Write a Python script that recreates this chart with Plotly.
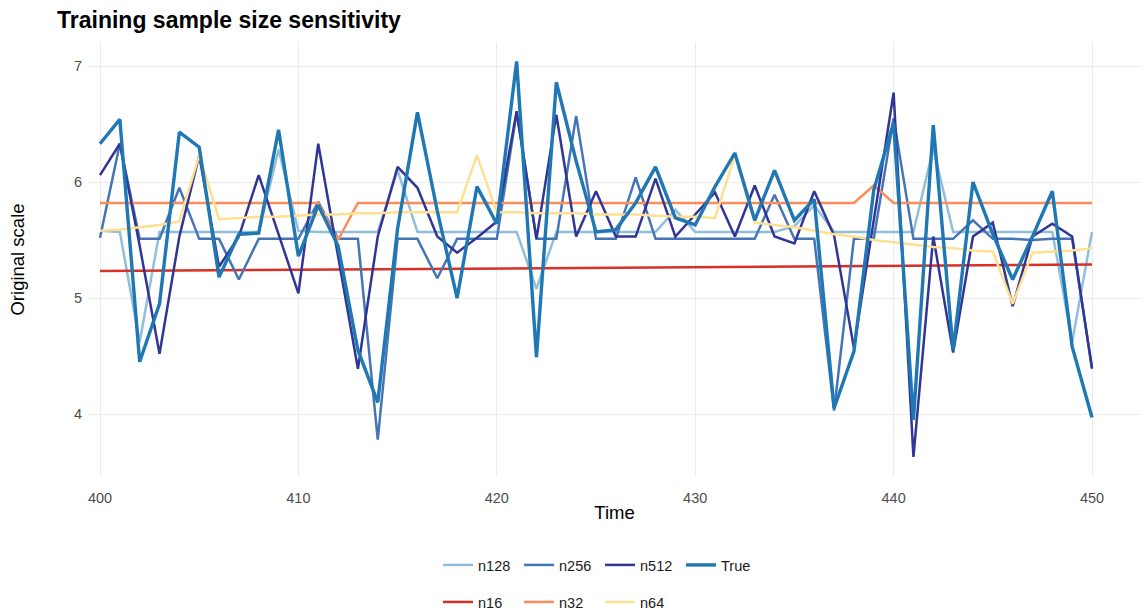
import plotly.graph_objects as go

time = list(range(400, 451))

true_vals = [6.33, 6.54, 4.45, 4.95, 6.43, 6.30, 5.18, 5.55, 5.56, 6.45,
             5.36, 5.80, 5.45, 4.55, 4.10, 5.60, 6.60, 5.75, 5.00, 5.96,
             5.64, 7.04, 4.49, 6.86, 6.18, 5.57, 5.59, 5.82, 6.13, 5.69,
             5.63, 5.96, 6.25, 5.67, 6.10, 5.67, 5.85, 4.05, 4.54, 5.93,
             6.51, 3.95, 6.49, 4.55, 6.00, 5.55, 5.16, 5.53, 5.92, 4.58,
             3.97]

n512 = [6.06, 6.33, 5.45, 4.52, 5.53, 6.23, 5.27, 5.53, 6.06, 5.55,
        5.04, 6.33, 5.37, 4.39, 5.53, 6.13, 5.95, 5.53, 5.39, 5.52,
        5.66, 6.61, 5.51, 6.58, 5.53, 5.92, 5.53, 5.53, 6.03, 5.53,
        5.72, 5.91, 5.53, 5.97, 5.53, 5.47, 5.92, 5.54, 4.57, 5.67,
        6.77, 3.63, 5.53, 4.53, 5.53, 5.65, 4.93, 5.53, 5.64, 5.53,
        4.39]

n256 = [5.52, 6.33, 5.51, 5.51, 5.95, 5.51, 5.51, 5.16, 5.51, 5.51,
        5.51, 5.83, 5.51, 5.51, 3.78, 5.51, 5.51, 5.17, 5.51, 5.51,
        5.51, 6.60, 5.51, 5.51, 6.57, 5.51, 5.51, 6.04, 5.51, 5.51,
        5.51, 5.51, 5.51, 5.51, 5.89, 5.51, 5.51, 4.03, 5.51, 5.51,
        6.55, 5.51, 5.51, 5.51, 5.67, 5.51, 5.51, 5.50, 5.51, 5.51,
        4.40]

n128 = [5.58, 5.57, 4.62, 5.57, 5.57, 5.57, 5.57, 5.57, 5.57, 6.28,
        5.58, 5.57, 5.57, 5.57, 5.57, 6.10, 5.57, 5.57, 5.57, 5.57,
        5.57, 5.57, 5.08, 5.57, 5.57, 5.57, 5.57, 5.57, 5.57, 5.76,
        5.57, 5.57, 5.57, 5.57, 5.57, 5.62, 5.80, 5.57, 5.57, 5.57,
        5.57, 5.57, 6.29, 5.57, 5.57, 5.57, 5.57, 5.57, 5.57, 4.62,
        5.57]

n64 = [5.58, 5.59, 5.61, 5.63, 5.66, 6.23, 5.68, 5.69, 5.70, 5.70,
       5.71, 5.72, 5.72, 5.73, 5.73, 5.74, 5.74, 5.74, 5.74, 6.23,
       5.74, 5.74, 5.73, 5.73, 5.73, 5.72, 5.72, 5.72, 5.71, 5.70,
       5.70, 5.69, 6.23, 5.65, 5.63, 5.61, 5.58, 5.55, 5.53, 5.50,
       5.48, 5.46, 5.44, 5.43, 5.41, 5.40, 4.95, 5.39, 5.40, 5.41,
       5.43]

n32 = [5.82, 5.82, 5.82, 5.82, 5.82, 5.82, 5.82, 5.82, 5.82, 5.82,
       5.82, 5.82, 5.50, 5.82, 5.82, 5.82, 5.82, 5.82, 5.82, 5.82,
       5.82, 5.82, 5.82, 5.82, 5.82, 5.82, 5.82, 5.82, 5.82, 5.82,
       5.82, 5.82, 5.82, 5.82, 5.82, 5.82, 5.82, 5.82, 5.82, 5.97,
       5.82, 5.82, 5.82, 5.82, 5.82, 5.82, 5.82, 5.82, 5.82, 5.82,
       5.82]

n16 = [5.232, 5.233, 5.235, 5.236, 5.237, 5.239, 5.240, 5.241, 5.242, 5.244,
       5.245, 5.246, 5.247, 5.249, 5.250, 5.251, 5.252, 5.253, 5.255, 5.256,
       5.257, 5.258, 5.259, 5.260, 5.261, 5.263, 5.264, 5.265, 5.266, 5.267,
       5.268, 5.269, 5.270, 5.271, 5.272, 5.273, 5.274, 5.275, 5.276, 5.277,
       5.278, 5.279, 5.280, 5.281, 5.282, 5.283, 5.284, 5.285, 5.286, 5.287,
       5.288]

# drawing order (bottom to top), legend placement and rank
series = [
    ("n128", n128, "#91bfdb", 2.5, "legend", 1),
    ("n16", n16, "#d73027", 2.5, "legend2", 5),
    ("n256", n256, "#4575b4", 2.5, "legend", 2),
    ("n32", n32, "#fc8d59", 2.5, "legend2", 6),
    ("n512", n512, "#313695", 2.5, "legend", 3),
    ("n64", n64, "#fee090", 2.5, "legend2", 7),
    ("True", true_vals, "#1f78b4", 3.4, "legend", 4),
]

fig = go.Figure()
for name, vals, color, width, leg, rank in series:
    fig.add_trace(go.Scatter(
        x=time, y=vals, mode="lines", name=name,
        line=dict(color=color, width=width),
        legend=leg, legendrank=rank,
    ))

font_family = "Liberation Sans, Arial, sans-serif"
legend_style = dict(
    orientation="h", xref="container", yref="container",
    xanchor="left", yanchor="middle",
    font=dict(family=font_family, size=14.5, color="#1a1a1a"),
    bgcolor="rgba(0,0,0,0)", entrywidth=36, itemwidth=30,
    tracegroupgap=0,
)

fig.update_layout(
    width=1145, height=610,
    margin=dict(l=88, r=4, t=42, b=133),
    paper_bgcolor="white", plot_bgcolor="white",
    font=dict(family=font_family),
    title=dict(
        text="<b>Training sample size sensitivity</b>",
        x=57 / 1145, xanchor="left", xref="container",
        y=1 - 20 / 610, yanchor="middle", yref="container",
        font=dict(size=23, color="black", family=font_family),
    ),
    xaxis=dict(
        range=[399.395, 452.47], tickvals=[400, 410, 420, 430, 440, 450],
        showgrid=True, gridcolor="#ebebeb", gridwidth=1.1,
        zeroline=False, showline=False, ticks="",
        ticklabelstandoff=10,
        tickfont=dict(size=14.5, color="#4d4d4d"),
        title=dict(text="Time", font=dict(size=18.5, color="black"), standoff=1),
    ),
    yaxis=dict(
        range=[3.457, 7.207], tickvals=[4, 5, 6, 7],
        showgrid=True, gridcolor="#ebebeb", gridwidth=1.1,
        zeroline=False, showline=False, ticks="",
        ticklabelstandoff=5,
        tickfont=dict(size=14.5, color="#4d4d4d"),
        title=dict(text="Original scale", font=dict(size=18.5, color="black"), standoff=44),
    ),
    legend=dict(x=438 / 1145, y=1 - 565 / 610, **legend_style),
    legend2=dict(x=438 / 1145, y=1 - 602 / 610, **legend_style),
)

fig.write_html("out.html")
